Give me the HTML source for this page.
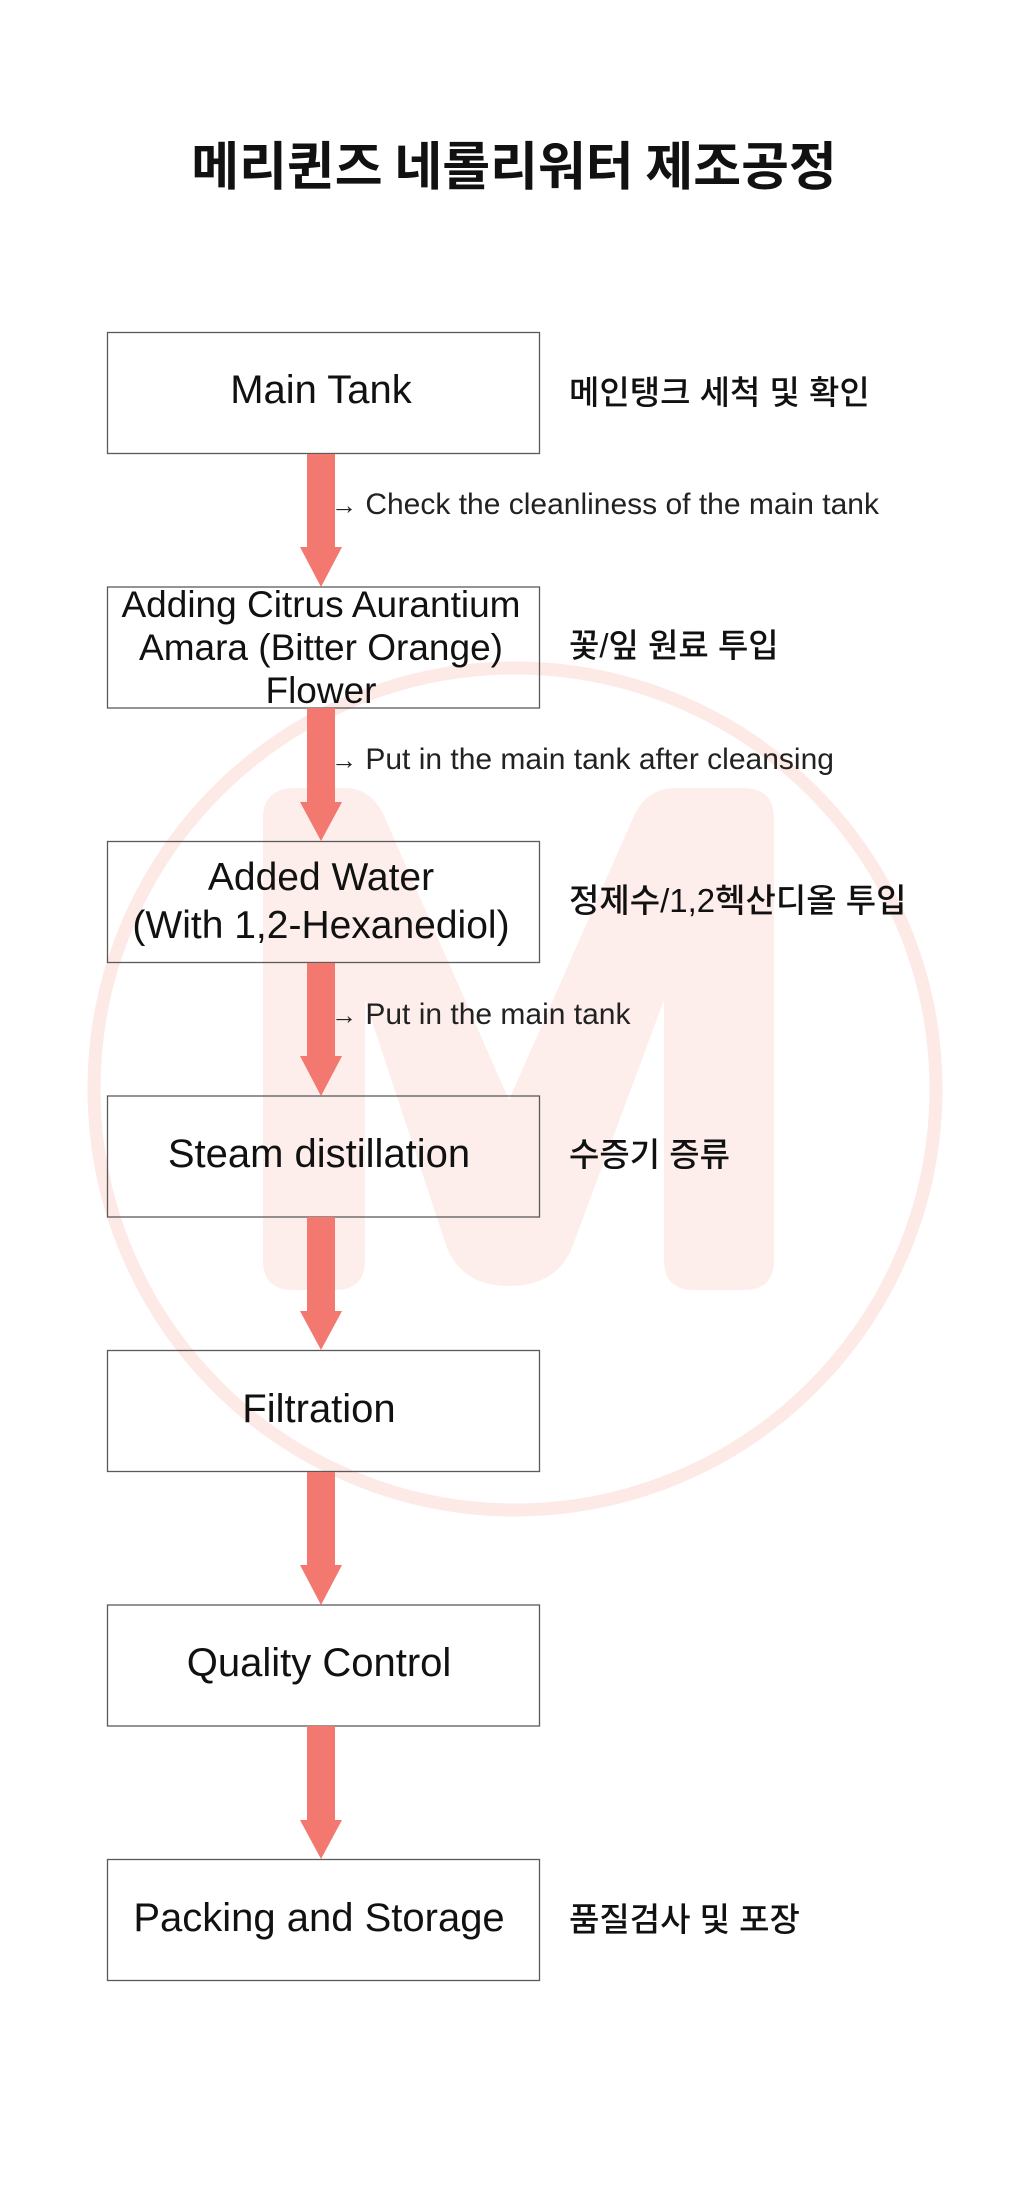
<!DOCTYPE html>
<html><head><meta charset="utf-8"><style>
html,body{margin:0;padding:0;background:#fff;}
svg{display:block;}
</style></head><body>
<svg width="1024" height="2193" viewBox="0 0 1024 2193" xmlns="http://www.w3.org/2000/svg">
<rect width="1024" height="2193" fill="#fff"/>
<!-- watermark -->
<circle cx="515" cy="1089" r="421" fill="none" stroke="#fde9e6" stroke-width="13"/>
<path d="M263,1260 L263,818 Q263,788 296,788 L345,788 Q372,788 385,818 L509,1100 L633,818 Q646,788 676,788 L742,788 Q774,788 774,818 L774,1260 Q774,1290 744,1290 L694,1290 Q664,1290 664,1260 L664,1000 L572,1248 Q556,1286 509,1286 Q463,1286 447,1248 L365,1000 L365,1260 Q365,1290 335,1290 L293,1290 Q263,1290 263,1260 Z" fill="#fdeeeb"/>
<g font-family="'Noto Sans CJK KR','Liberation Sans',sans-serif" font-weight="700" font-size="52" fill="#111">
<text x="514" y="185" text-anchor="middle">메리퀸즈 네롤리워터 제조공정</text>
</g>
<!-- boxes -->
<g fill="none" stroke="#5a5a5a" stroke-width="1.3">
<rect x="107.5" y="332.5" width="432" height="121"/>
<rect x="107.5" y="587" width="432" height="121"/>
<rect x="107.5" y="841.5" width="432" height="121"/>
<rect x="107.5" y="1096" width="432" height="121"/>
<rect x="107.5" y="1350.5" width="432" height="121"/>
<rect x="107.5" y="1605" width="432" height="121"/>
<rect x="107.5" y="1859.5" width="432" height="121"/>
</g>
<!-- arrows -->
<g fill="#f27870">
<path d="M307,454 H335 V547 H342 L321,587 L300,547 H307 Z"/>
<path d="M307,708 H335 V802 H342 L321,841 L300,802 H307 Z"/>
<path d="M307,963 H335 V1056 H342 L321,1096 L300,1056 H307 Z"/>
<path d="M307,1217 H335 V1311 H342 L321,1350 L300,1311 H307 Z"/>
<path d="M307,1472 H335 V1565 H342 L321,1605 L300,1565 H307 Z"/>
<path d="M307,1726 H335 V1820 H342 L321,1859 L300,1820 H307 Z"/>
</g>
<!-- box text -->
<g font-family="'Liberation Sans','Noto Sans CJK KR',sans-serif" font-size="40" fill="#111" text-anchor="middle">
<text x="321" y="403">Main Tank</text>
<text x="321" y="617" font-size="37">Adding Citrus Aurantium</text>
<text x="321" y="660" font-size="37">Amara (Bitter Orange)</text>
<text x="321" y="703" font-size="37">Flower</text>
<text x="321" y="890" font-size="39">Added Water</text>
<text x="321" y="938" font-size="39">(With 1,2-Hexanediol)</text>
<text x="319" y="1167">Steam distillation</text>
<text x="319" y="1422">Filtration</text>
<text x="319" y="1676">Quality Control</text>
<text x="319" y="1931">Packing and Storage</text>
</g>
<!-- annotations -->
<g font-family="'Liberation Sans','Noto Sans CJK KR',sans-serif" font-size="30" fill="#222">
<text x="331" y="514"><tspan font-size="26">→</tspan> Check the cleanliness of the main tank</text>
<text x="331" y="769"><tspan font-size="26">→</tspan> Put in the main tank after cleansing</text>
<text x="331" y="1024"><tspan font-size="26">→</tspan> Put in the main tank</text>
</g>
<!-- korean labels -->
<g font-family="'Liberation Sans','Noto Sans CJK KR',sans-serif" font-size="33" font-weight="500" fill="#111">
<text x="569" y="404">메인탱크 세척 및 확인</text>
<text x="569" y="657">꽃/잎 원료 투입</text>
<text x="569" y="912">정제수/1,2헥산디올 투입</text>
<text x="569" y="1166">수증기 증류</text>
<text x="569" y="1931">품질검사 및 포장</text>
</g>
</svg>
</body></html>
